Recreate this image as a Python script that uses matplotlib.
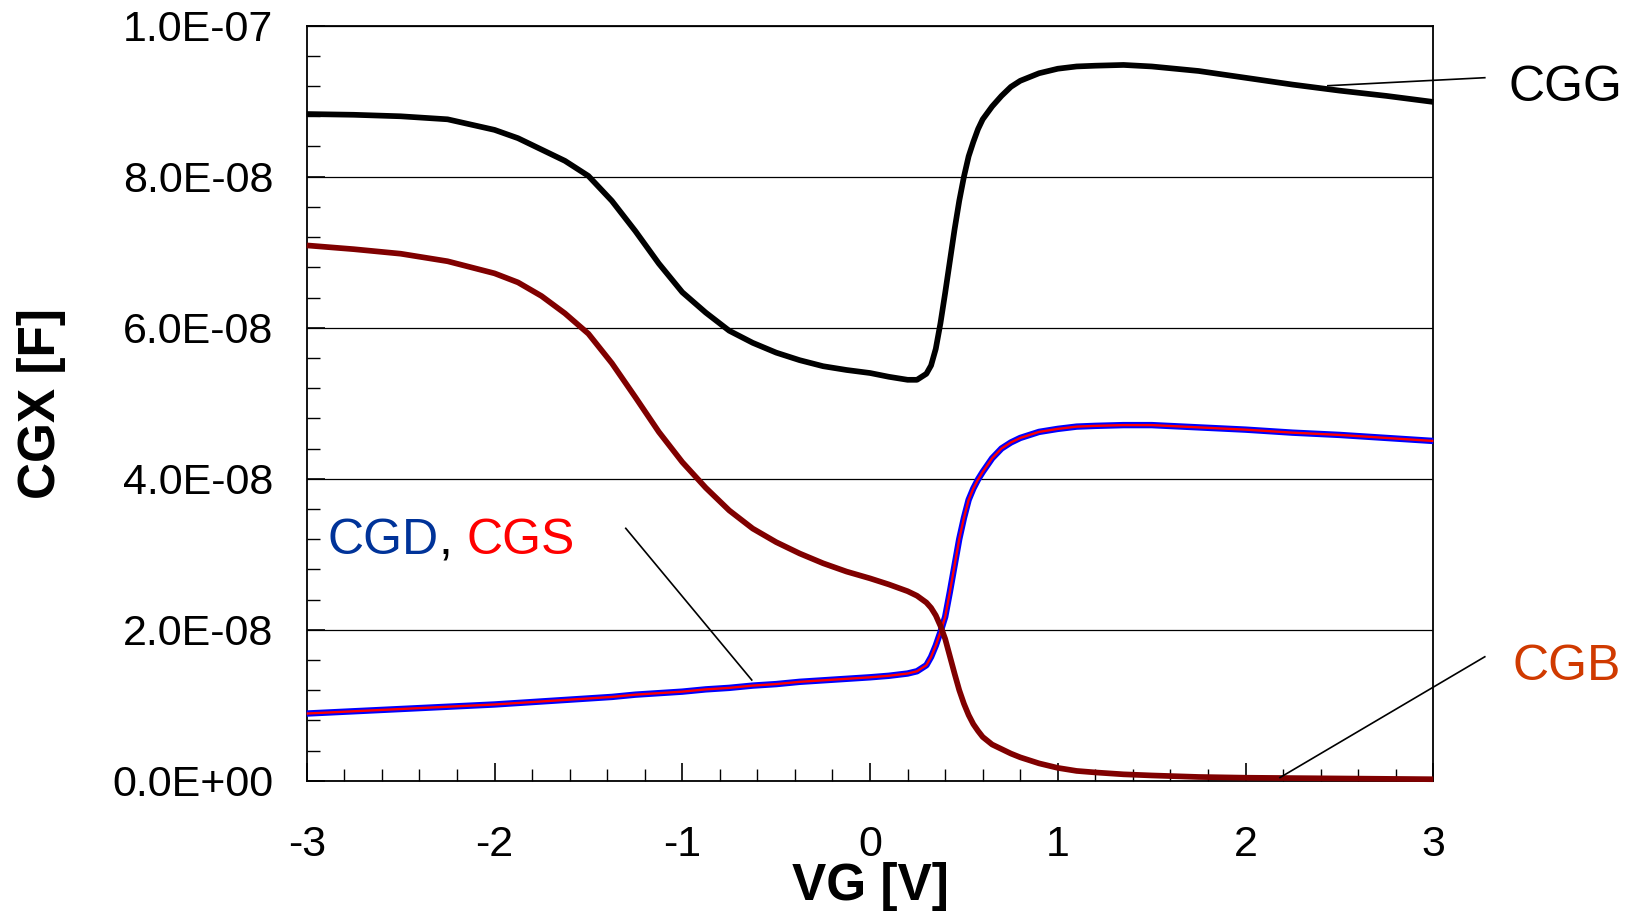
import matplotlib
matplotlib.use('Agg')
import matplotlib.pyplot as plt

plt.rcParams['font.family'] = ['Liberation Sans', 'DejaVu Sans']

# gate voltage sweep [V]
vg = [-3.0, -2.75, -2.5, -2.25, -2.0, -1.875, -1.75, -1.625, -1.5, -1.375,
      -1.25, -1.125, -1.0, -0.875, -0.75, -0.625, -0.5, -0.375, -0.25, -0.125,
      0.0, 0.1, 0.2, 0.25, 0.3, 0.325, 0.35, 0.375, 0.4, 0.425,
      0.45, 0.475, 0.5, 0.525, 0.55, 0.575, 0.6, 0.65, 0.7, 0.75,
      0.8, 0.9, 1.0, 1.1, 1.2, 1.35, 1.5, 1.75, 2.0, 2.25,
      2.5, 2.75, 3.0]

# capacitances in units of 1e-8 F
cgg = [8.83, 8.82, 8.80, 8.76, 8.62, 8.51, 8.36, 8.21, 8.01, 7.68,
       7.28, 6.85, 6.47, 6.20, 5.96, 5.80, 5.67, 5.57, 5.49, 5.44,
       5.40, 5.35, 5.31, 5.31, 5.39, 5.50, 5.72, 6.06, 6.46, 6.88,
       7.30, 7.68, 8.00, 8.27, 8.46, 8.63, 8.76, 8.93, 9.07, 9.19,
       9.27, 9.37, 9.43, 9.46, 9.47, 9.48, 9.46, 9.40, 9.31, 9.22,
       9.14, 9.07, 8.99]
cgd = [0.89, 0.92, 0.95, 0.98, 1.01, 1.03, 1.05, 1.07, 1.09, 1.11,
       1.14, 1.16, 1.18, 1.21, 1.23, 1.26, 1.28, 1.31, 1.33, 1.35,
       1.37, 1.39, 1.42, 1.45, 1.53, 1.64, 1.79, 1.97, 2.17, 2.50,
       2.85, 3.20, 3.48, 3.72, 3.87, 3.99, 4.09, 4.27, 4.40, 4.48,
       4.54, 4.62, 4.66, 4.69, 4.70, 4.71, 4.71, 4.68, 4.65, 4.61,
       4.58, 4.54, 4.50]
cgs = cgd  # symmetric device: CGS lies on top of CGD
cgb = [7.09, 7.04, 6.98, 6.88, 6.72, 6.60, 6.42, 6.19, 5.92, 5.53,
       5.08, 4.62, 4.22, 3.88, 3.58, 3.34, 3.16, 3.01, 2.88, 2.77,
       2.68, 2.60, 2.51, 2.45, 2.36, 2.29, 2.19, 2.05, 1.88, 1.65,
       1.42, 1.20, 1.02, 0.87, 0.75, 0.66, 0.58, 0.48, 0.42, 0.36,
       0.31, 0.23, 0.17, 0.13, 0.11, 0.085, 0.07, 0.05, 0.04, 0.035,
       0.03, 0.025, 0.02]

x_ticks = [-3, -2, -1, 0, 1, 2, 3]
x_labels = ['-3', '-2', '-1', '0', '1', '2', '3']
y_ticks = [0.0, 2e-8, 4e-8, 6e-8, 8e-8, 1e-7]

scale = 1e-8
fig = plt.figure(figsize=(16.43, 9.14), dpi=100)
ax = fig.add_axes([0.1867, 0.1458, 0.6857, 0.8261])

line_kw = dict(clip_on=False, solid_capstyle='butt', solid_joinstyle='round')
ax.plot(vg, [v * scale for v in cgg], color='black', lw=4.1, zorder=3, **line_kw)
ax.plot(vg, [v * scale for v in cgd], color='#0000FF', lw=4.6, zorder=3, **line_kw)
ax.plot(vg, [v * scale for v in cgs], color='#FF0000', lw=1.7, zorder=4, **line_kw)
ax.plot(vg, [v * scale for v in cgb], color='#800000', lw=4.1, zorder=5, **line_kw)

ax.set_xlim(-3, 3)
ax.set_ylim(0, 1e-7)
ax.set_xticks(x_ticks)
ax.set_xticklabels(x_labels)
ax.set_xticks([-3 + 0.2 * i for i in range(31)], minor=True)
ax.set_yticks(y_ticks)
ax.set_yticklabels([f'{v:.1E}' for v in y_ticks])
ax.set_yticks([0.4e-8 * i for i in range(26)], minor=True)

ax.tick_params(axis='both', which='both', direction='in', top=False, right=False,
               color='black', labelsize=31)
ax.tick_params(axis='both', which='major', length=13, width=1.2)
ax.tick_params(axis='both', which='minor', length=9, width=1.0)
ax.tick_params(axis='y', which='major', pad=24)
ax.tick_params(axis='x', which='major', pad=32)

ax.yaxis.grid(True, which='major', color='black', lw=0.9)
ax.set_axisbelow(True)
for s in ax.spines.values():
    s.set_linewidth(1.3)
    s.set_color('black')

ax.set_xlabel('VG [V]', fontsize=37, fontweight='bold', va='center')
ax.xaxis.set_label_coords(0.5, -0.14)
ax.set_ylabel('CGX [F]', fontsize=37, fontweight='bold', va='center')
ax.yaxis.set_label_coords(-0.235, 0.5)

# leader lines and curve names
ax.plot([2.438, 3.274], [9.205e-8, 9.311e-8], color='black', lw=1.2, clip_on=False, zorder=6)
ax.text(3.40, 9.18e-8, 'CGG', fontsize=36, color='black', va='center', ha='left')

ax.plot([2.183, 3.274], [0.042e-8, 1.642e-8], color='black', lw=1.2, clip_on=False, zorder=6)
ax.text(3.42, 1.51e-8, 'CGB', fontsize=36, color='#D03A00', va='center', ha='left')

ax.plot([-1.301, -0.630], [3.343e-8, 1.334e-8], color='black', lw=1.2, zorder=6)
t1 = ax.text(-2.89, 3.18e-8, 'CGD', fontsize=36, color='#003399', va='center', ha='left')
t2 = ax.annotate(', ', xy=(1, 0), xycoords=t1, fontsize=36, color='black',
                 va='bottom', ha='left')
ax.annotate('CGS', xy=(1, 0), xycoords=t2, fontsize=36, color='#FF0000',
            va='bottom', ha='left')

fig.savefig('out.png', dpi=100)
